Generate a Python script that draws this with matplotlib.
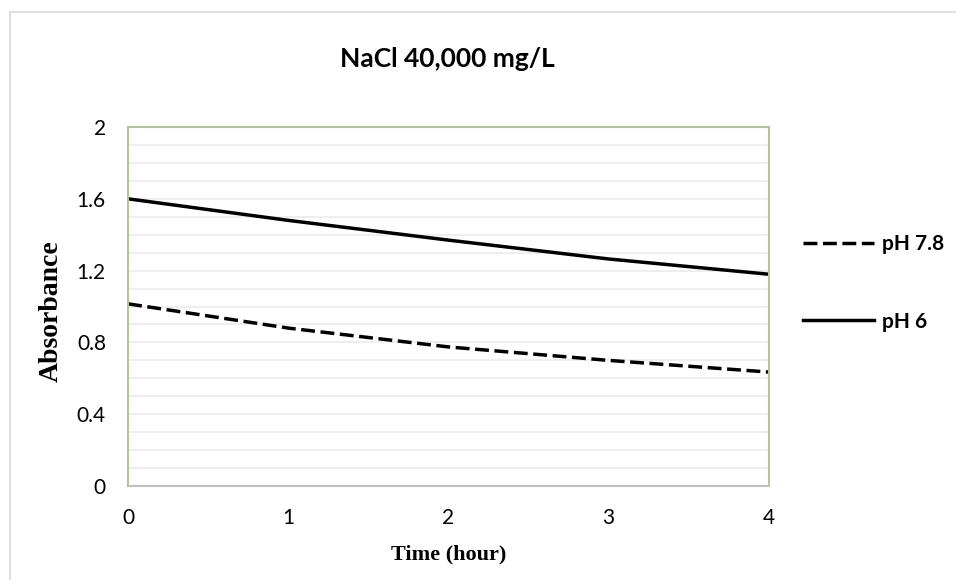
import matplotlib
matplotlib.use('Agg')
import matplotlib.pyplot as plt
from matplotlib.patches import Rectangle

time_h = [0, 1, 2, 3, 4]
ph78 = [1.015, 0.88, 0.775, 0.70, 0.635]
ph6 = [1.60, 1.48, 1.37, 1.265, 1.18]
yticks = [0, 0.4, 0.8, 1.2, 1.6, 2]
ytick_labels = ['0', '0.4', '0.8', '1.2', '1.6', '2']

fig = plt.figure(figsize=(9.56, 5.8), dpi=100)
# outer chart border
fig.patches.append(Rectangle((0.010, -0.1), 1.2, 1.079, transform=fig.transFigure,
                             fill=False, edgecolor='#d9d9d9', linewidth=1.2))

ax = fig.add_axes([0.134, 0.162, 0.670, 0.619])
l1, = ax.plot(time_h, ph78, color='black', linewidth=2.5, linestyle=(0, (4, 1.6)), label='pH 7.8')
l2, = ax.plot(time_h, ph6, color='black', linewidth=2.5, label='pH 6')

ax.set_xlim(0, 4)
ax.set_ylim(0, 2)
ax.set_xticks(time_h)
ax.set_yticks(yticks)
ax.set_yticklabels(ytick_labels)
ax.set_yticks([i / 10 for i in range(21)], minor=True)
ax.grid(True, which='both', axis='y', color='#ebebeb', linewidth=1.2)
ax.set_axisbelow(True)
ax.tick_params(which='both', length=0)
ax.tick_params(axis='x', pad=16)
ax.tick_params(axis='y', pad=16)
for lbl in ax.get_xticklabels() + ax.get_yticklabels():
    lbl.set_fontfamily('Lato')
    lbl.set_fontsize(15)

for s in ['left', 'top', 'right']:
    ax.spines[s].set_color('#b4c49c')
    ax.spines[s].set_linewidth(1.5)
ax.spines['bottom'].set_color('#bfbfbf')
ax.spines['bottom'].set_linewidth(1.5)

fig.text(0.469, 0.036, 'Time (hour)', family='Liberation Serif', fontweight='bold',
         fontsize=16, ha='center', va='baseline')
fig.text(0.054, 0.463, 'Absorbance', family='Liberation Serif', fontweight='bold',
         fontsize=20, ha='center', va='center', rotation=90)
fig.text(0.468, 0.8845, 'NaCl 40,000 mg/L', family='Lato',
         fontweight='bold', fontsize=19, ha='center', va='baseline')

leg = fig.legend(handles=[l1, l2], loc='center left', bbox_to_anchor=(0.840, 0.512),
                 frameon=False, handlelength=3.4, labelspacing=2.75, handletextpad=0.38,
                 borderpad=0, borderaxespad=0,
                 prop={'family': 'Lato', 'weight': 'bold', 'size': 15})

plt.savefig('out.png', dpi=100)
